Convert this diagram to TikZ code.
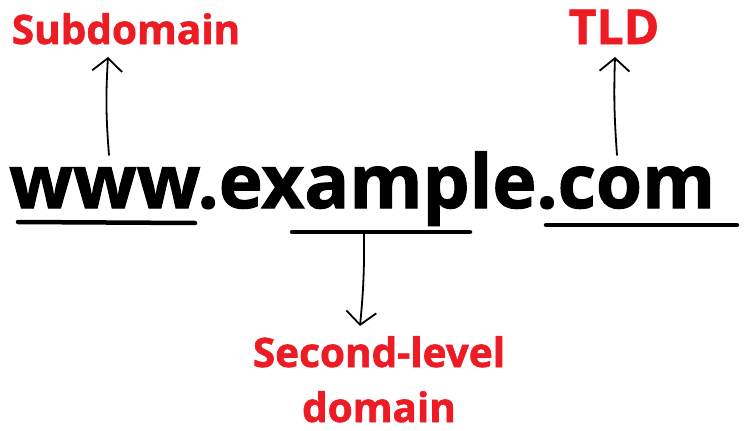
\documentclass[tikz,border=0pt]{standalone}
\usepackage{fontspec}
\setmainfont{Open Sans}
\newfontfamily\heavyfont[FakeBold=1.5]{Open Sans}
\definecolor{labelred}{RGB}{237, 28, 36}
\usetikzlibrary{arrows.meta, positioning}
\tikzset{
  urltext/.style={inner sep=0pt, anchor=base west, font=\fontsize{74.5}{80}\heavyfont\bfseries},
  partlabel/.style={inner sep=0pt, anchor=base, text=labelred, font=\fontsize{40.5}{55}\heavyfont\bfseries, align=center},
  underbar/.style={line width=4.5pt, line cap=round},
  partarrow/.style={-{Straight Barb[length=13pt, width=30pt]}, line width=1.8pt, line cap=round},
}
\begin{document}
\begin{tikzpicture}[x=1pt, y=-1pt]
  \useasboundingbox (0,0) rectangle (748,431);
  % the address
  \node[urltext] (url) at (9,208) {www.example.com};
  % labels
  \node[partlabel] (sub) at (126,44) {Subdomain};
  \node[partlabel, font=\fontsize{48}{55}\heavyfont\bfseries] (tld) at (614,44) {TLD};
  \node[partlabel] (sld) at (379,422) {Second-level\\domain};
  % underlines
  \coordinate (wwwL) at (18,222); \coordinate (wwwR) at (195,223);
  \coordinate (sldL) at (292,232); \coordinate (sldR) at (470,232);
  \coordinate (comL) at (546,225); \coordinate (comR) at (737,225);
  \draw[underbar] (wwwL)--(wwwR); \draw[underbar] (sldL)--(sldR); \draw[underbar] (comL)--(comR);
  % arrows
  \coordinate (subfoot) at (109,155); \coordinate (subtip) at (108,57);
  \coordinate (tldfoot) at (617,155); \coordinate (tldtip) at (615,57);
  \coordinate (sldtop) at (364,233); \coordinate (sldtip) at (360,326);
  \draw[partarrow] (subfoot) to[bend left=4] (subtip);
  \draw[partarrow] (tldfoot) to[bend left=3] (tldtip);
  \draw[partarrow] (sldtop) to[bend left=3] (sldtip);
\end{tikzpicture}
\end{document}
